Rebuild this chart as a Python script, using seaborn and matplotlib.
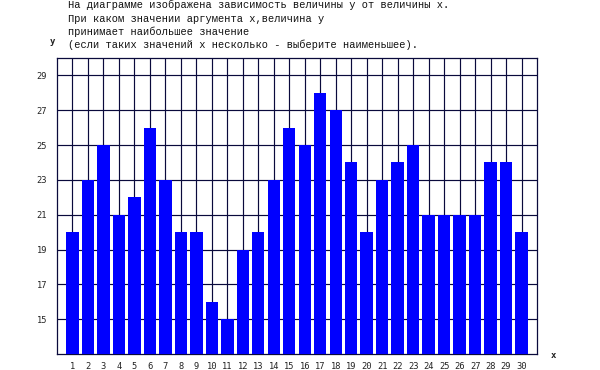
import matplotlib
matplotlib.use("Agg")
import matplotlib.pyplot as plt
import seaborn as sns
import pandas as pd

x_values = list(range(1, 31))
y_values = [20, 23, 25, 21, 22, 26, 23, 20, 20, 16, 15, 19, 20, 23, 26,
            25, 28, 27, 24, 20, 23, 24, 25, 21, 21, 21, 21, 24, 24, 20]
y_ticks = [15, 17, 19, 21, 23, 25, 27, 29]
title_lines = [
    "На диаграмме изображена зависимость величины y от величины x.",
    "При каком значении аргумента x,величина y",
    "принимает наибольшее значение",
    "(если таких значений x несколько - выберите наименьшее).",
]

sns.set_theme(style="white")
plt.rcParams['font.family'] = ['Liberation Mono', 'DejaVu Sans Mono']

df = pd.DataFrame({"x": x_values, "y": y_values})

fig = plt.figure(figsize=(6, 3.7), dpi=100)
ax = fig.add_axes([57/600, 1-354/370, 480/600, 296/370])

grid_color = "#0a0a3c"
ax.set_axisbelow(True)
ax.grid(True, color=grid_color, linewidth=0.85)

sns.barplot(data=df, x="x", y="y", native_scale=True, width=0.8,
            color="#0000ff", saturation=1, ax=ax, zorder=3)
for p in ax.patches:
    p.set_edgecolor("none")

ax.set_xlim(0, 31)
ax.set_ylim(13, 30)
ax.set_xticks(x_values)
ax.set_xticklabels([str(v) for v in x_values], fontsize=6.3,
                   family='DejaVu Sans Mono')
ax.set_yticks(y_ticks)
ax.set_yticklabels([str(v) for v in y_ticks], fontsize=6.3,
                   family='DejaVu Sans Mono')
ax.tick_params(axis='x', length=0, pad=5.5, colors="#222222")
ax.tick_params(axis='y', length=0, pad=7, colors="#222222")
ax.set_xlabel("")
ax.set_ylabel("")
for s in ax.spines.values():
    s.set_color(grid_color)
    s.set_linewidth(0.9)
    s.set_visible(True)

ys = [5, 19, 32, 45]
for t, yy in zip(title_lines, ys):
    fig.text(68/600, 1-yy/370, t, fontsize=7.45, va='center', ha='left',
             color="#111111")
fig.text(50/600, 1-42/370, "y", fontsize=6.5, va='center', ha='left',
         family='DejaVu Sans Mono', weight='bold', color="#222222")
fig.text(551/600, 1-355/370, "x", fontsize=6.5, va='center', ha='left',
         family='DejaVu Sans Mono', weight='bold', color="#222222")

fig.savefig("out.png", dpi=100)
